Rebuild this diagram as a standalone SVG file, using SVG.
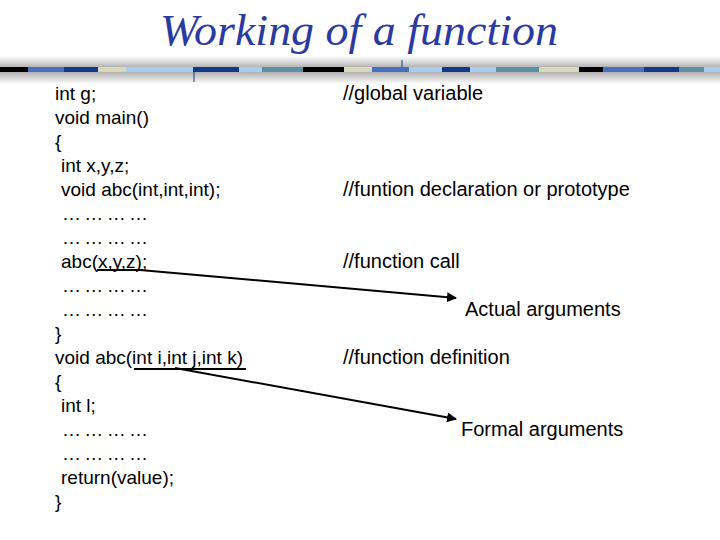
<svg xmlns="http://www.w3.org/2000/svg" width="720" height="540" viewBox="0 0 720 540">
<defs>
<linearGradient id="g" x1="0" y1="0" x2="0" y2="1"><stop offset="0" stop-color="#fff"/><stop offset="0.45" stop-color="#aaa"/><stop offset="0.55" stop-color="#aaa"/><stop offset="1" stop-color="#fff"/></linearGradient>
<marker id="a" viewBox="0 0 10 10" refX="9" refY="5" markerWidth="5" markerHeight="5" orient="auto"><path d="M0,0L10,5L0,10z" fill="#000"/></marker>
<style>
.t{font-family:"Liberation Sans",Arial,sans-serif;font-size:19px;fill:#000}
.c{font-family:"Liberation Sans",Arial,sans-serif;font-size:20px;fill:#000}
.l{stroke:#000;stroke-width:2;fill:none}
</style>
</defs>
<rect width="720" height="540" fill="#fff"/>
<text x="359" y="45" text-anchor="middle" font-family="Liberation Serif,serif" font-style="italic" font-size="45" fill="#2a3aa0" textLength="398" lengthAdjust="spacingAndGlyphs">Working of a function</text>
<g id="bar">
<rect x="0" y="56" width="720" height="28" fill="url(#g)"/>
<rect x="0" y="67" width="28" height="5" fill="#000"/>
<rect x="28" y="67" width="36" height="5" fill="#4a6fc0"/>
<rect x="64" y="67" width="34" height="5" fill="#0f3a8a"/>
<rect x="98" y="67" width="28" height="5" fill="#d8d8b8"/>
<rect x="126" y="67" width="67" height="5" fill="#a8cdf0"/>
<rect x="193" y="67" width="46" height="5" fill="#0f3a8a"/>
<rect x="239" y="67" width="23" height="5" fill="#a8cdf0"/>
<rect x="262" y="67" width="41" height="5" fill="#5a90a0"/>
<rect x="303" y="67" width="41" height="5" fill="#000"/>
<rect x="344" y="67" width="28" height="5" fill="#d8d8b8"/>
<rect x="372" y="67" width="37" height="5" fill="#4a6fc0"/>
<rect x="409" y="67" width="33" height="5" fill="#a8cdf0"/>
<rect x="442" y="67" width="28" height="5" fill="#0f3a8a"/>
<rect x="470" y="67" width="26" height="5" fill="#a8cdf0"/>
<rect x="496" y="67" width="43" height="5" fill="#5a90a0"/>
<rect x="539" y="67" width="40" height="5" fill="#d8d8b8"/>
<rect x="579" y="67" width="24" height="5" fill="#000"/>
<rect x="603" y="67" width="41" height="5" fill="#4a6fc0"/>
<rect x="644" y="67" width="35" height="5" fill="#0f3a8a"/>
<rect x="679" y="67" width="25" height="5" fill="#5a90a0"/>
<rect x="704" y="67" width="16" height="5" fill="#a8cdf0"/>
<line x1="194" y1="72" x2="194" y2="82" stroke="#0f3a8a"/>
<line x1="402" y1="60" x2="402" y2="67" stroke="#0f3a8a"/>
</g>
<g id="code">
<text x="55" y="100" class="t">int g;</text>
<text x="55" y="124" class="t">void main()</text>
<text x="55" y="148" class="t">{</text>
<text x="61" y="172" class="t">int x,y,z;</text>
<text x="61" y="196" class="t">void abc(int,int,int);</text>
<text x="62" y="220" class="t" textLength="86" lengthAdjust="spacing">…………</text>
<text x="62" y="244" class="t" textLength="86" lengthAdjust="spacing">…………</text>
<text x="61" y="268" class="t">abc(x,y,z);</text>
<text x="62" y="292" class="t" textLength="86" lengthAdjust="spacing">…………</text>
<text x="62" y="316" class="t" textLength="86" lengthAdjust="spacing">…………</text>
<text x="55" y="340" class="t">}</text>
<text x="55" y="364" class="t">void abc(int i,int j,int k)</text>
<text x="55" y="388" class="t">{</text>
<text x="61" y="412" class="t">int l;</text>
<text x="62" y="436" class="t" textLength="86" lengthAdjust="spacing">…………</text>
<text x="62" y="460" class="t" textLength="86" lengthAdjust="spacing">…………</text>
<text x="61" y="484" class="t">return(value);</text>
<text x="55" y="508" class="t">}</text>
</g>
<g id="comments">
<text x="343" y="100" class="c">//global variable</text>
<text x="343" y="196" class="c">//funtion declaration or prototype</text>
<text x="343" y="268" class="c">//function call</text>
<text x="343" y="364" class="c">//function definition</text>
<text x="465" y="316" class="c">Actual arguments</text>
<text x="461" y="436" class="c">Formal arguments</text>
</g>
<g id="connectors">
<line x1="97" y1="270" x2="143" y2="270" class="l" stroke-width="1.5"/>
<line x1="134" y1="369" x2="246" y2="369" class="l" stroke-width="1.5"/>
<line x1="140" y1="270" x2="456" y2="298" class="l" marker-end="url(#a)"/>
<line x1="175" y1="368" x2="456" y2="419" class="l" marker-end="url(#a)"/>
</g>
</svg>
